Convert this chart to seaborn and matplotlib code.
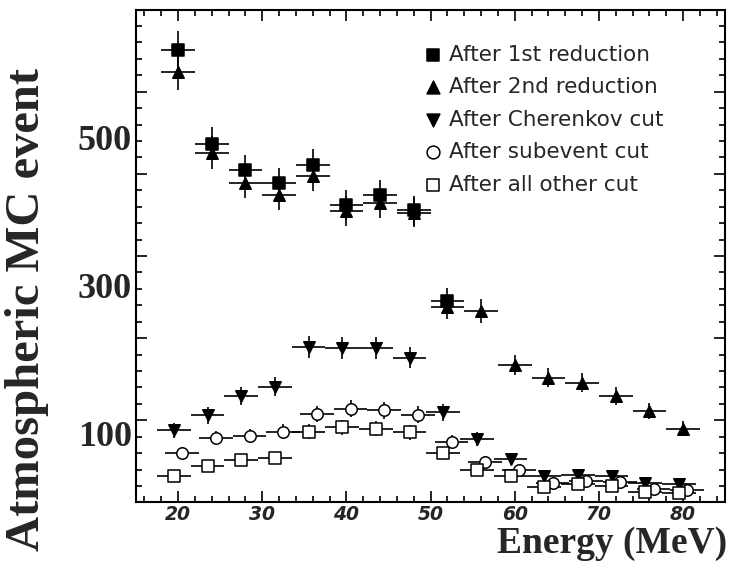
import numpy as np
import pandas as pd
import matplotlib
matplotlib.use("Agg")
import matplotlib.pyplot as plt
import seaborn as sns

# bin centres (MeV); each selection step is drawn slightly shifted in the original
energy = [20, 24, 28, 32, 36, 40, 44, 48, 52, 56, 60, 64, 68, 72, 76, 80]

first_red = [618, 491, 455, 438, 462, 408, 422, 401, 279]
first_err = [24.9, 22.2, 21.3, 20.9, 21.5, 20.2, 20.5, 20.0, 16.7]
second_red = [588, 479, 438, 422, 448, 400, 411, 398, 270, 265, 192, 175, 168, 150, 130, 106]
second_err = [24.2, 21.9, 20.9, 20.5, 21.2, 20.0, 20.3, 19.9, 16.4, 16.3, 13.9, 13.2, 13.0, 12.2, 11.4, 10.3]
cherenkov = [104, 124, 150, 163, 216, 215, 215, 202, 128, 92, 65, 42, 43, 42, 33, 31]
cherenkov_err = [10.2, 11.1, 12.2, 12.8, 14.7, 14.7, 14.7, 14.2, 11.3, 9.6, 8.1, 6.5, 6.6, 6.5, 5.7, 5.6]
subevent = [73, 93, 96, 102, 126, 133, 131, 125, 88, 61, 50, 33, 36, 34, 24, 23]
subevent_err = [8.5, 9.6, 9.8, 10.1, 11.2, 11.5, 11.4, 11.2, 9.4, 7.8, 7.1, 5.7, 6.0, 5.8, 4.9, 4.8]
other_cut = [42, 56, 64, 67, 102, 108, 106, 101, 73, 50, 42, 27, 31, 29, 21, 19]
other_err = [6.5, 7.5, 8.0, 8.2, 10.1, 10.4, 10.3, 10.0, 8.5, 7.1, 6.5, 5.2, 5.6, 5.4, 4.6, 4.4]

labels = ["After 1st reduction", "After 2nd reduction", "After Cherenkov cut",
          "After subevent cut", "After all other cut"]
yticklabels = [100, 300, 500]

series = [
    # values, errors, shift, marker, face
    (first_red, first_err, 0.0, "s", "black"),
    (second_red, second_err, 0.0, "^", "black"),
    (cherenkov, cherenkov_err, -0.5, "v", "black"),
    (subevent, subevent_err, 0.5, "o", "white"),
    (other_cut, other_err, -0.5, "s", "white"),
]

sns.set_style("ticks")
plt.rcParams["font.family"] = ["DejaVu Sans"]

fig = plt.figure(figsize=(7.31, 5.62), dpi=100)
ax = fig.add_axes([0.186, 0.106, 0.806, 0.876])

for (vals, errs, shift, marker, face), label in zip(series, labels):
    x = np.array(energy[:len(vals)]) + shift
    df = pd.DataFrame({"energy": x, "events": vals})
    ax.errorbar(df["energy"], df["events"], yerr=errs, xerr=2, fmt="none",
                ecolor="black", elinewidth=1.2, capsize=0, zorder=2)
    sns.scatterplot(data=df, x="energy", y="events", ax=ax, marker=marker,
                    s=68, color=face, edgecolor="black", linewidth=1.1,
                    label=label, zorder=3)

ax.set_xlim(15, 85)
ax.set_ylim(6.4, 671.6)
ax.set_xticks(np.arange(20, 81, 10))
ax.set_xticks(np.arange(16, 85, 2), minor=True)
ax.set_xticklabels([str(v) for v in range(20, 81, 10)],
                   fontsize=13.5, fontweight="bold", fontstyle="italic")
ax.set_yticks(np.arange(6.4, 672, 111))
ax.set_yticks(np.arange(6.4, 672, 22.2), minor=True)
ax.set_yticklabels([])
ax.tick_params(axis="both", which="major", direction="in", length=8, width=1.2,
               top=True, right=True, color="black", pad=2)
ax.tick_params(axis="both", which="minor", direction="in", length=4, width=1.2,
               top=True, right=True, color="black")
for sp in ax.spines.values():
    sp.set_linewidth(1.5)
    sp.set_color("black")

for v in yticklabels:
    ax.text(-0.007, v, str(v), transform=ax.get_yaxis_transform(), ha="right",
            va="center_baseline", fontsize=26, fontweight="bold",
            family="Liberation Serif")

ax.set_xlabel("")
ax.set_ylabel("")
fig.text(0.037, 0.45, "Atmospheric MC event", rotation=90, ha="center",
         va="center", fontsize=35, fontweight="bold", family="Liberation Serif")
fig.text(0.995, 0.016, "Energy (MeV)", ha="right", va="baseline", fontsize=27,
         fontweight="bold", family="Liberation Serif")

leg = ax.legend(loc="upper left", bbox_to_anchor=(0.49, 0.93), frameon=False,
                fontsize=15.5, handlelength=0.75, handletextpad=0.4,
                labelspacing=0.58, borderpad=0, borderaxespad=0,
                scatterpoints=1)
for h in leg.legend_handles:
    h.set_sizes([85])

fig.savefig("out.png", dpi=100)
